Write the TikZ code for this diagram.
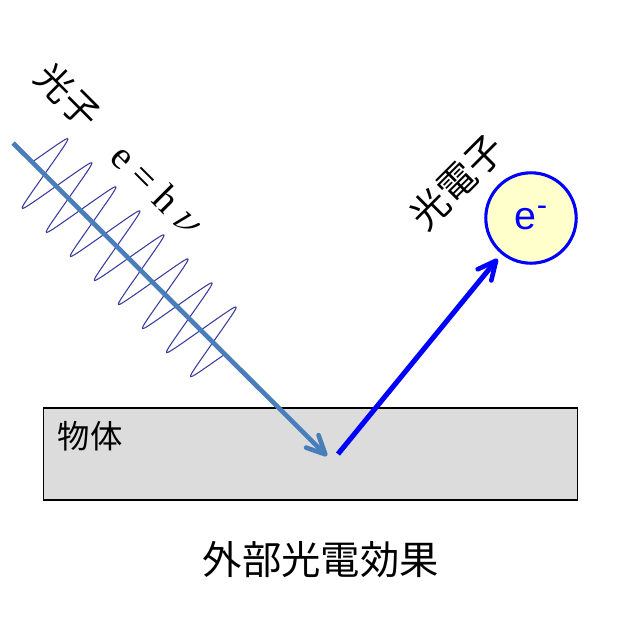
\documentclass[tikz,border=0pt]{standalone}
\usepackage{fontspec}
\setsansfont{Liberation Sans}
\setmainfont{Liberation Serif}
\newfontfamily\jpfont{Noto Sans CJK JP}
\usetikzlibrary{arrows.meta}
\definecolor{beamblue}{HTML}{4A7EBB}
\definecolor{wavecol}{HTML}{3A3A9E}
\definecolor{bodygray}{HTML}{DCDCDC}
\definecolor{elecfill}{HTML}{FFFFCC}

\begin{document}
\begin{tikzpicture}[x=0.025cm,y=-0.025cm,
      label jp/.style={font=\jpfont\fontsize{#1}{#1}\selectfont,inner sep=0pt},
      beam/.style={line width=3.3pt,-{Straight Barb[length=4.6mm,width=4.4mm,line width=3.3pt,round]}},
      main node/.style={circle,draw=blue,line width=2.2pt,fill=elecfill,
        minimum size=2.26cm,inner sep=0pt}]
      \useasboundingbox (0,0) rectangle (640,640);

      \node[draw=black,line width=0.75pt,fill=bodygray,minimum width=13.325cm,
        minimum height=2.3cm,inner sep=0pt] (body) at (310.5,454) {};
      \node[label jp=23] (bodytext) at (90,436) {物体};
      \node[label jp=28] (title) at (321,560) {外部光電効果};
      \node[label jp=26,rotate=-45] (photon) at (68,96) {光子};
      \node[font=\fontsize{28}{28}\selectfont,inner sep=0pt,rotate=-45] (energy)
        at (158,190) {e\ =\ h\ \scalebox{1.25}{$\nu$}};
      \node[label jp=27,rotate=45] (photoelec) at (457,182) {光電子};
      \node[main node,text=blue,font=\sffamily\fontsize{28}{28}\selectfont] (electron)
        at (531,218) {e\raisebox{0.7ex}{\fontsize{22}{22}\selectfont -}};

      \coordinate (beamstart) at (13,143);
      \coordinate (beamend) at (327,456);
      \coordinate (emit) at (338,454);

      % wave along the beam, 8 periods
      \begin{scope}[shift={(33,161.5)},rotate=-45]
        \draw[wavecol,line width=0.75pt] plot[domain=0:8,samples=641]
          ({\x*34},{-40.6*asin(0.94*sin(\x*360))/asin(0.94)});
      \end{scope}

      \draw[beam,draw=beamblue] (beamstart) -- (beamend);
      \draw[beam,draw=blue,line width=3.6pt,shorten >=0.15cm] (emit) -- (electron);
    \end{tikzpicture}
\end{document}
